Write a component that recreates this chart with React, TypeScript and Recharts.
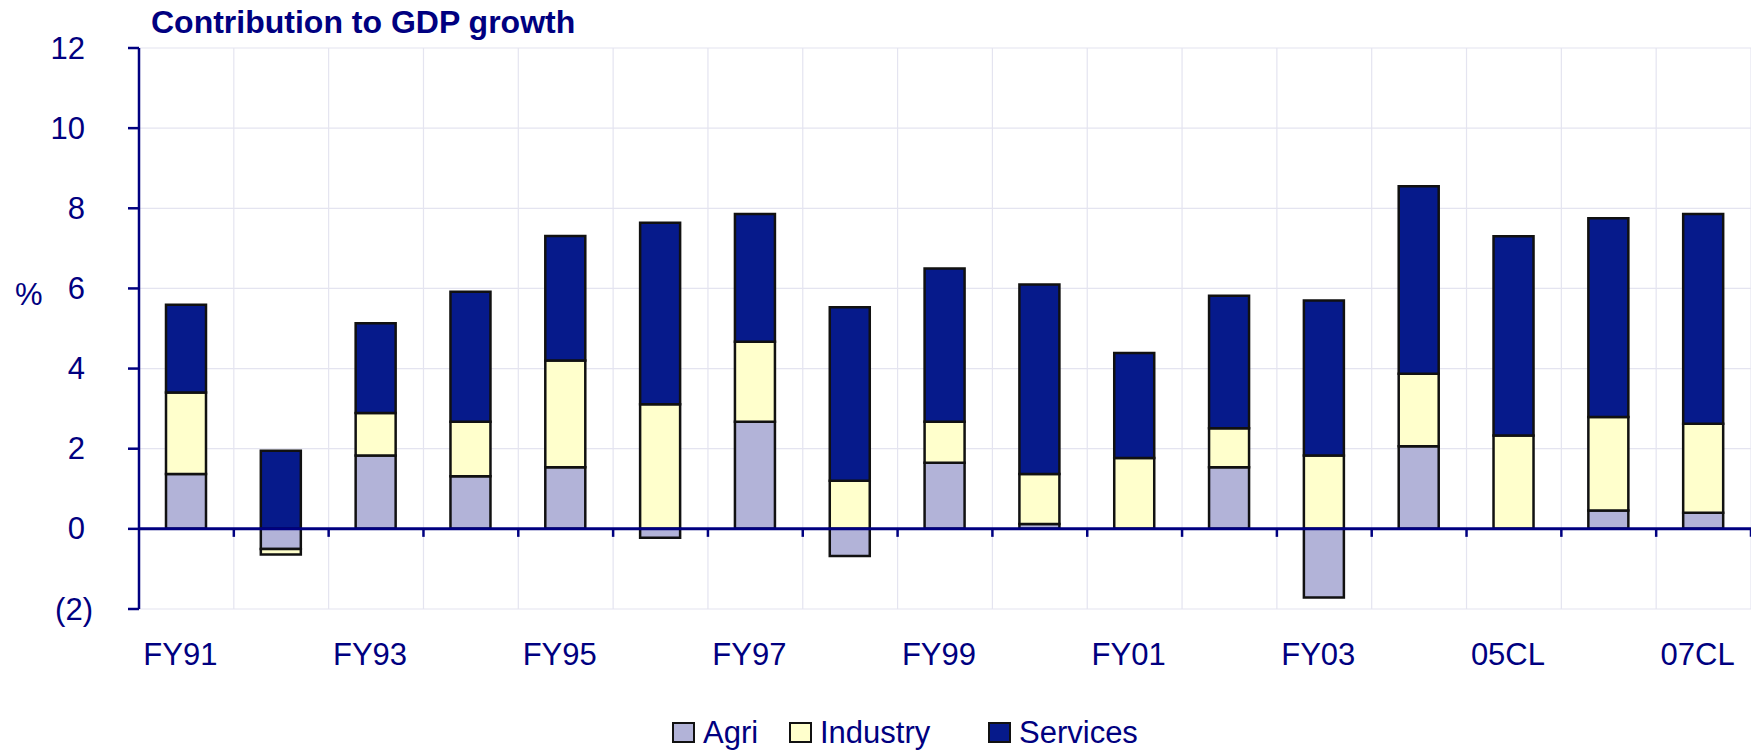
import React from "react";
import { BarChart, Bar, XAxis, YAxis, CartesianGrid, ReferenceLine } from "recharts";

const categories = [
  "FY91", "FY92", "FY93", "FY94", "FY95", "FY96", "FY97", "FY98", "FY99",
  "FY00", "FY01", "FY02", "FY03", "FY04", "05CL", "06CL", "07CL",
];
const agri = [1.37, -0.5, 1.83, 1.31, 1.54, -0.22, 2.67, -0.68, 1.65, 0.12, 0, 1.54, -1.71, 2.06, 0, 0.46, 0.4];
const industry = [2.03, -0.14, 1.06, 1.36, 2.66, 3.11, 2.0, 1.2, 1.02, 1.25, 1.77, 0.97, 1.83, 1.81, 2.33, 2.33, 2.22];
const services = [2.19, 1.95, 2.24, 3.25, 3.11, 4.53, 3.19, 4.33, 3.83, 4.73, 2.62, 3.31, 3.87, 4.68, 4.97, 4.96, 5.24];
const yTicks = [-2, 0, 2, 4, 6, 8, 10, 12];

const navy = "#000080";
const agriColor = "#B2B3D8";
const industryColor = "#FFFFCC";
const servicesColor = "#061A8B";
const font = "'Liberation Sans', Arial, sans-serif";

const data = categories.map((name, i) => ({
  name,
  agri: agri[i],
  industry: industry[i],
  services: services[i],
}));

const YTick = ({ x, y, payload }: any) => {
  const v = payload.value;
  const label = v < 0 ? `(${Math.abs(v)})` : String(v);
  return (
    <text x={v < 0 ? x - 35 : x - 43} y={y} textAnchor="end" dominantBaseline="central"
      fill={navy} fontSize={31} fontFamily={font}>
      {label}
    </text>
  );
};

const XTick = ({ x, y, payload }: any) => (
  <text x={x - 6} y={y + 56} textAnchor="middle" fill={navy} fontSize={31} fontFamily={font}>
    {payload.value}
  </text>
);

// zero line with the little category ticks hanging under it
const ZeroLine = (p: any) => {
  const { x1, y1, x2 } = p;
  const step = (x2 - x1) / categories.length;
  return (
    <g>
      {categories.map((_, i) => (
        <line key={i} x1={x1 + (i + 1) * step} x2={x1 + (i + 1) * step} y1={y1} y2={y1 + 8}
          stroke={navy} strokeWidth={2.5} />
      ))}
      <line x1={x1} y1={y1} x2={x2} y2={y1} stroke={navy} strokeWidth={3} />
    </g>
  );
};

const legendItems = [
  { label: "Agri", color: agriColor, left: 672 },
  { label: "Industry", color: industryColor, left: 789 },
  { label: "Services", color: servicesColor, left: 988 },
];

export default function App() {
  return (
    <div style={{ position: "absolute", left: 0, top: 0, width: 1751, height: 752, background: "#fff", fontFamily: font, overflow: "hidden" }}>
      <BarChart width={1751} height={752} data={data} stackOffset="sign" barSize={40}
        margin={{ top: 48, right: 0, bottom: 0, left: 0 }}>
        <CartesianGrid stroke="#E4E4F0" strokeWidth={1.2}
          verticalCoordinatesGenerator={({ offset, width }: any) => {
            const w = offset.width ?? width - offset.left - offset.right;
            return categories.map((_, i) => offset.left + ((i + 1) * w) / categories.length);
          }} />
        <XAxis dataKey="name" interval={1} height={143} axisLine={false} tickLine={false}
          tickSize={0} tickMargin={0} tick={<XTick />} />
        <YAxis width={139} domain={[-2, 12]} ticks={yTicks} interval={0}
          axisLine={{ stroke: navy, strokeWidth: 2.5 }} tickLine={{ stroke: navy, strokeWidth: 2.5 }}
          tickSize={11} tickMargin={0} tick={<YTick />} />
        <Bar dataKey="agri" stackId="a" fill={agriColor} stroke="#111" strokeWidth={2.5} isAnimationActive={false} />
        <Bar dataKey="industry" stackId="a" fill={industryColor} stroke="#111" strokeWidth={2.5} isAnimationActive={false} />
        <Bar dataKey="services" stackId="a" fill={servicesColor} stroke="#111" strokeWidth={2.5} isAnimationActive={false} />
        <ReferenceLine y={0} shape={<ZeroLine />} />
      </BarChart>

      <div style={{ position: "absolute", left: 151, top: 6, fontSize: 32, lineHeight: 1, fontWeight: "bold", color: navy, whiteSpace: "nowrap" }}>
        Contribution to GDP growth
      </div>
      <div style={{ position: "absolute", left: 15, top: 279, fontSize: 31, lineHeight: 1, color: navy }}>%</div>

      {legendItems.map((it) => (
        <div key={it.label} style={{ position: "absolute", left: it.left, top: 717, display: "flex", alignItems: "center", whiteSpace: "nowrap" }}>
          <span style={{ width: 23, height: 21, boxSizing: "border-box", border: "2.5px solid #111", background: it.color, marginRight: 8 }} />
          <span style={{ fontSize: 31, lineHeight: 1, color: navy }}>{it.label}</span>
        </div>
      ))}
    </div>
  );
}
